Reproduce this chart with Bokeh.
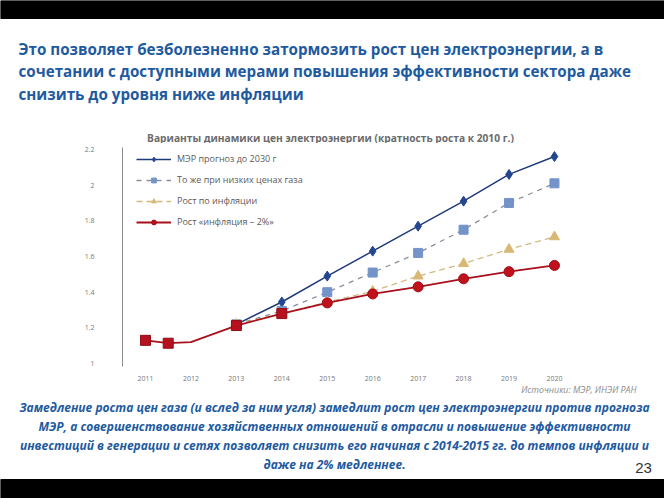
from bokeh.plotting import figure
from bokeh.layouts import column
from bokeh.models import Range1d, FixedTicker, Legend, LegendItem
from bokeh.core.properties import value
from bokeh.embed import file_html
from bokeh.resources import INLINE

# ---------------- data ----------------
years_red = [2011, 2011.5, 2012, 2013, 2014, 2015, 2016, 2017, 2018, 2019, 2020]
red_vals = [1.13, 1.114, 1.12, 1.213, 1.28, 1.34, 1.39, 1.43, 1.475, 1.515, 1.55]
red_square_years = [2011, 2011.5, 2013, 2014]
red_circle_years = [2015, 2016, 2017, 2018, 2019, 2020]

years = [2013, 2014, 2015, 2016, 2017, 2018, 2019, 2020]
mer_vals = [1.22, 1.345, 1.49, 1.63, 1.77, 1.91, 2.06, 2.16]
lowgas_vals = [1.22, 1.295, 1.40, 1.51, 1.62, 1.75, 1.90, 2.01]
infl_vals = [1.22, 1.28, 1.345, 1.405, 1.49, 1.56, 1.64, 1.71]

tick_years = [2011, 2012, 2013, 2014, 2015, 2016, 2017, 2018, 2019, 2020]
y_ticks = [1.0, 1.2, 1.4, 1.6, 1.8, 2.0, 2.2]
y_tick_labels = ["1", "1.2", "1.4", "1.6", "1.8", "2", "2.2"]

series_names = ["МЭР прогноз до 2030 г", "То же при низких ценах газа",
                "Рост по инфляции", "Рост «инфляция – 2%»"]

title_lines = ["Это позволяет безболезненно затормозить рост цен электроэнергии, а в",
               "сочетании с доступными мерами повышения эффективности сектора даже",
               "снизить до уровня ниже инфляции"]
chart_title = "Варианты динамики цен электроэнергии (кратность роста к 2010 г.)"
source_text = "Источники: МЭР, ИНЭИ РАН"
bottom_lines = ["Замедление роста цен газа (и вслед за ним угля) замедлит рост цен электроэнергии против прогноза",
                "МЭР, а совершенствование хозяйственных отношений в отрасли и повышение эффективности",
                "инвестиций в генерации и сетях позволяет снизить его начиная с 2014-2015 гг. до темпов инфляции и",
                "даже на 2% медленнее."]
page_number = "23"

W = 664
FONT = "Open Sans"
BLUE_TEXT = "#1E5AA0"


def blank(h):
    f = figure(width=W, height=h, x_range=Range1d(0, W), y_range=Range1d(h, 0),
               toolbar_location=None, output_backend="svg",
               x_axis_location=None, y_axis_location=None, min_border=0,
               frame_align=False)
    f.outline_line_color = None
    f.grid.visible = False
    return f


# ---------------- header (page y 0..143) ----------------
HH = 143
header = blank(HH)
header.quad(left=[0], right=[W], top=[0], bottom=[18], color="black")
header.text(x=[18, 18, 18], y=[48, 70.5, 93], text=title_lines,
            text_font=value(FONT), text_font_style="bold", text_font_size="15.2px",
            text_color=BLUE_TEXT, text_baseline="middle", text_align="left")
header.text(x=[330], y=[137], text=[chart_title], text_font=value(FONT),
            text_font_style="bold", text_font_size="10.2px", text_color="#6b6b6b",
            text_baseline="middle", text_align="center")

# ---------------- chart (page y 143..383) ----------------
CH = 240
p = figure(width=W, height=CH, x_range=Range1d(2010.494, 2020.573),
           y_range=Range1d(0.9835, 2.2108), toolbar_location=None,
           output_backend="svg", min_border_left=122, min_border_right=84,
           min_border_top=4, min_border_bottom=13, frame_align=False)
p.outline_line_color = None
p.grid.visible = False

p.yaxis.ticker = FixedTicker(ticks=y_ticks)
p.yaxis.major_label_overrides = {t: l for t, l in zip(y_ticks, y_tick_labels)}
p.yaxis.axis_line_color = "#8c8c8c"
p.yaxis.major_tick_line_color = None
p.yaxis.minor_tick_line_color = None
p.yaxis.major_label_text_font_size = "7px"
p.yaxis.major_label_text_color = "#777777"
p.yaxis.major_label_standoff = 22
p.yaxis.major_label_text_font = FONT

p.xaxis.ticker = FixedTicker(ticks=tick_years)
p.xaxis.axis_line_color = None
p.xaxis.major_tick_line_color = None
p.xaxis.minor_tick_line_color = None
p.xaxis.major_label_text_font_size = "7px"
p.xaxis.major_label_text_color = "#777777"
p.xaxis.major_label_standoff = 3
p.xaxis.major_label_text_font = FONT

mer_line = p.line(years, mer_vals, line_color="#1f3a7a", line_width=1.5)
mer_mk = p.scatter(years, mer_vals, marker="diamond", size=10, fill_color="#23468f",
                   line_color="#23468f")

low_line = p.line(years, lowgas_vals, line_color="#8a8e9c", line_width=1.3, line_dash="5 5")
low_mk = p.scatter(years, lowgas_vals, marker="square", size=9, fill_color="#7393c9",
                   line_color="#7393c9")

infl_line = p.line(years, infl_vals, line_color="#d2b980", line_width=1.3, line_dash="6 4")
infl_mk = p.scatter(years, infl_vals, marker="triangle", size=10, fill_color="#d8b872",
                    line_color="#d8b872")

red_line = p.line(years_red, red_vals, line_color="#a8101c", line_width=1.8)
red_sq_y = [red_vals[years_red.index(y)] for y in red_square_years]
red_ci_y = [red_vals[years_red.index(y)] for y in red_circle_years]
p.scatter(red_square_years, red_sq_y, marker="square", size=10, fill_color="#b5111e",
          line_color="#8e0d17")
red_mk = p.scatter(red_circle_years, red_ci_y, marker="circle", size=10, fill_color="#c0111d",
                   line_color="#9a0e18")

legend = Legend(items=[
    LegendItem(label=series_names[0], renderers=[mer_line, mer_mk]),
    LegendItem(label=series_names[1], renderers=[low_line, low_mk]),
    LegendItem(label=series_names[2], renderers=[infl_line, infl_mk]),
    LegendItem(label=series_names[3], renderers=[red_line, red_mk]),
], location=(14, 138))
legend.background_fill_alpha = 0
legend.border_line_color = None
legend.padding = 0
legend.margin = 0
legend.glyph_width = 35
legend.glyph_height = 12
legend.label_height = 12
legend.spacing = 8
legend.label_standoff = 6
legend.label_text_font = FONT
legend.label_text_font_size = "9px"
legend.label_text_color = "#5a5a5a"
p.add_layout(legend, "center")

# ---------------- footer (page y 383..498) ----------------
FH = 115
Y0 = 383
footer = blank(FH)
footer.text(x=[636], y=[389 - Y0], text=[source_text], text_font=value(FONT),
            text_font_style="italic", text_font_size="8.8px", text_color="#8a8a8a",
            text_baseline="middle", text_align="right")
footer.text(x=[334] * 4, y=[y - Y0 for y in [407, 426, 445, 464]], text=bottom_lines,
            text_font=value(FONT), text_font_style="bold italic", text_font_size="12px",
            text_color=BLUE_TEXT, text_baseline="middle", text_align="center")
footer.text(x=[643], y=[467 - Y0], text=[page_number], text_font=value("Liberation Sans"),
            text_font_size="15px", text_color="#333333",
            text_baseline="middle", text_align="center")
footer.quad(left=[0], right=[W], top=[479 - Y0], bottom=[FH], color="black")

layout = column(header, p, footer, spacing=0)
open("out.html", "w").write(file_html(layout, INLINE))
